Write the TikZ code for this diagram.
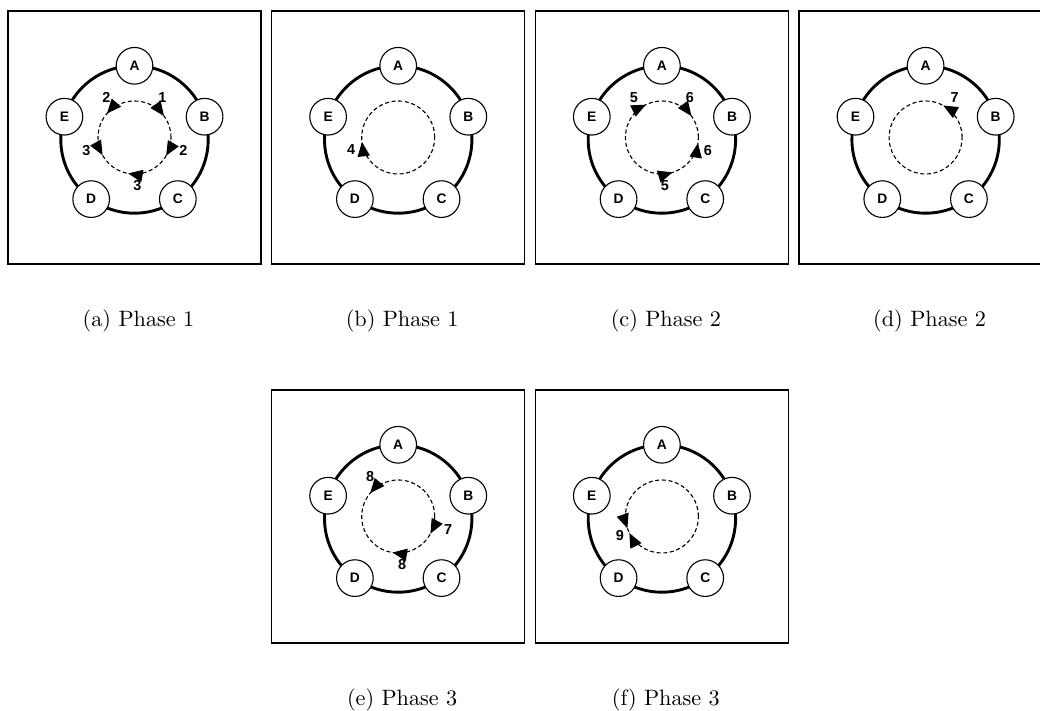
\documentclass[tikz,border=0pt]{standalone}
\usepackage{fontspec}
\newfontfamily\ringfont{Liberation Sans}
\usetikzlibrary{arrows.meta, calc}
\tikzset{
    my-frame/.style={
        draw, line width=0.6pt
    },
    my-ring/.style={
        draw, line width=1.3pt
    },
    my-station/.style={
        draw, fill=white, shape=circle, line width=0.5pt, minimum size=16.5pt, inner sep=0pt,
        font=\ringfont\bfseries\fontsize{6.2}{7}\selectfont
    },
    my-token/.style={
        draw, line width=0.5pt, dash pattern=on 1.8pt off 1.2pt
    },
    my-pass/.style={
        line width=0.5pt, -{Triangle[length=6.5pt, width=5.5pt]}
    },
    my-count/.style={
        inner sep=0pt, font=\ringfont\bfseries\fontsize{6.5}{7}\selectfont
    },
    my-caption/.style={
        anchor=base, inner sep=0pt, font=\normalsize
    },
}

\begin{document}
\begin{tikzpicture}[x=0.45pt, y=0.45pt]

        \useasboundingbox (0, 0) rectangle (1040, 711);

        % PANEL CENTERS -------------------------------------------------------------------------------
        \coordinate (PA) at (134.5, 573.5);
        \coordinate (PB) at (398.2, 573.5);
        \coordinate (PC) at (661.9, 573.5);
        \coordinate (PD) at (925.6, 573.5);
        \coordinate (PE) at (398.2, 194.5);
        \coordinate (PF) at (661.9, 194.5);

        % FRAME, RING, STATIONS AND TOKEN PATH FOR EVERY PANEL
        \foreach \p in {PA, PB, PC, PD, PE, PF} {
            \draw[my-frame] ($(\p) + (-126.5, -126.5)$) rectangle ($(\p) + (126.5, 126.5)$);
            \coordinate (\p-R) at ($(\p) + (0, -2)$);
            \coordinate (\p-O) at ($(\p) + (0, 0)$);
            \coordinate (\p-CAP) at ($(\p) + (4, -189.5)$);
            \draw[my-ring] (\p-R) circle (73.7);
            \node[my-station] (\p-A) at ($(\p-R) + (90:73.7)$)   {A};
            \node[my-station] (\p-B) at ($(\p-R) + (18:73.7)$)   {B};
            \node[my-station] (\p-C) at ($(\p-R) + (-54:73.7)$)  {C};
            \node[my-station] (\p-D) at ($(\p-R) + (-126:73.7)$) {D};
            \node[my-station] (\p-E) at ($(\p-R) + (162:73.7)$)  {E};
            \draw[my-token] (\p-O) circle (36.5);
        }

        % (a) PHASE 1 ---------------------------------------------------------------------------------
        \draw[my-pass] ($(PA-O) + (60:36.5)$)  arc (60:36:36.5);
        \draw[my-pass] ($(PA-O) + (-6:36.5)$)  arc (-6:-30:36.5);
        \draw[my-pass] ($(PA-O) + (115:36.5)$) arc (115:139:36.5);
        \draw[my-pass] ($(PA-O) + (185:36.5)$) arc (185:209:36.5);
        \draw[my-pass] ($(PA-O) + (284:36.5)$) arc (284:260:36.5);
        \node[my-count] (PA-L1) at ($(PA-O) + (28, 40)$)    {1};
        \node[my-count] (PA-L2) at ($(PA-O) + (49, -13)$)   {2};
        \node[my-count] (PA-L3) at ($(PA-O) + (-28, 40)$)   {2};
        \node[my-count] (PA-L4) at ($(PA-O) + (-48, -13)$)  {3};
        \node[my-count] (PA-L5) at ($(PA-O) + (3, -48)$)    {3};

        % (b) PHASE 1 ---------------------------------------------------------------------------------
        \draw[my-pass] ($(PB-O) + (211:36.5)$) arc (211:187:36.5);
        \node[my-count] (PB-L1) at ($(PB-O) + (-47, -12)$)  {4};

        % (c) PHASE 2 ---------------------------------------------------------------------------------
        \draw[my-pass] ($(PC-O) + (140:36.5)$) arc (140:116:36.5);
        \draw[my-pass] ($(PC-O) + (60:36.5)$)  arc (60:36:36.5);
        \draw[my-pass] ($(PC-O) + (-33:36.5)$) arc (-33:-9:36.5);
        \draw[my-pass] ($(PC-O) + (-97:36.5)$) arc (-97:-73:36.5);
        \node[my-count] (PC-L1) at ($(PC-O) + (-28, 40)$)   {5};
        \node[my-count] (PC-L2) at ($(PC-O) + (28, 40)$)    {6};
        \node[my-count] (PC-L3) at ($(PC-O) + (46, -13)$)   {6};
        \node[my-count] (PC-L4) at ($(PC-O) + (3, -48)$)    {5};

        % (d) PHASE 2 ---------------------------------------------------------------------------------
        \draw[my-pass] ($(PD-O) + (37:36.5)$)  arc (37:61:36.5);
        \node[my-count] (PD-L1) at ($(PD-O) + (29, 40)$)    {7};

        % (e) PHASE 3 ---------------------------------------------------------------------------------
        \draw[my-pass] ($(PE-O) + (116:36.5)$) arc (116:140:36.5);
        \draw[my-pass] ($(PE-O) + (-4:36.5)$)  arc (-4:-28:36.5);
        \draw[my-pass] ($(PE-O) + (285:36.5)$) arc (285:261:36.5);
        \node[my-count] (PE-L1) at ($(PE-O) + (-28, 40)$)   {8};
        \node[my-count] (PE-L2) at ($(PE-O) + (50, -13)$)   {7};
        \node[my-count] (PE-L3) at ($(PE-O) + (4, -48)$)    {8};

        % (f) PHASE 3 ---------------------------------------------------------------------------------
        \draw[my-pass] ($(PF-O) + (175:36.5)$) arc (175:199:36.5);
        \draw[my-pass] ($(PF-O) + (231:36.5)$) arc (231:207:36.5);
        \node[my-count] (PF-L1) at ($(PF-O) + (-42, -19)$)  {9};

        % CAPTIONS
        \node[my-caption] (CA) at (PA-CAP) {(a) Phase 1};
        \node[my-caption] (CB) at (PB-CAP) {(b) Phase 1};
        \node[my-caption] (CC) at (PC-CAP) {(c) Phase 2};
        \node[my-caption] (CD) at (PD-CAP) {(d) Phase 2};
        \node[my-caption] (CE) at (PE-CAP) {(e) Phase 3};
        \node[my-caption] (CF) at (PF-CAP) {(f) Phase 3};

    \end{tikzpicture}
\end{document}
